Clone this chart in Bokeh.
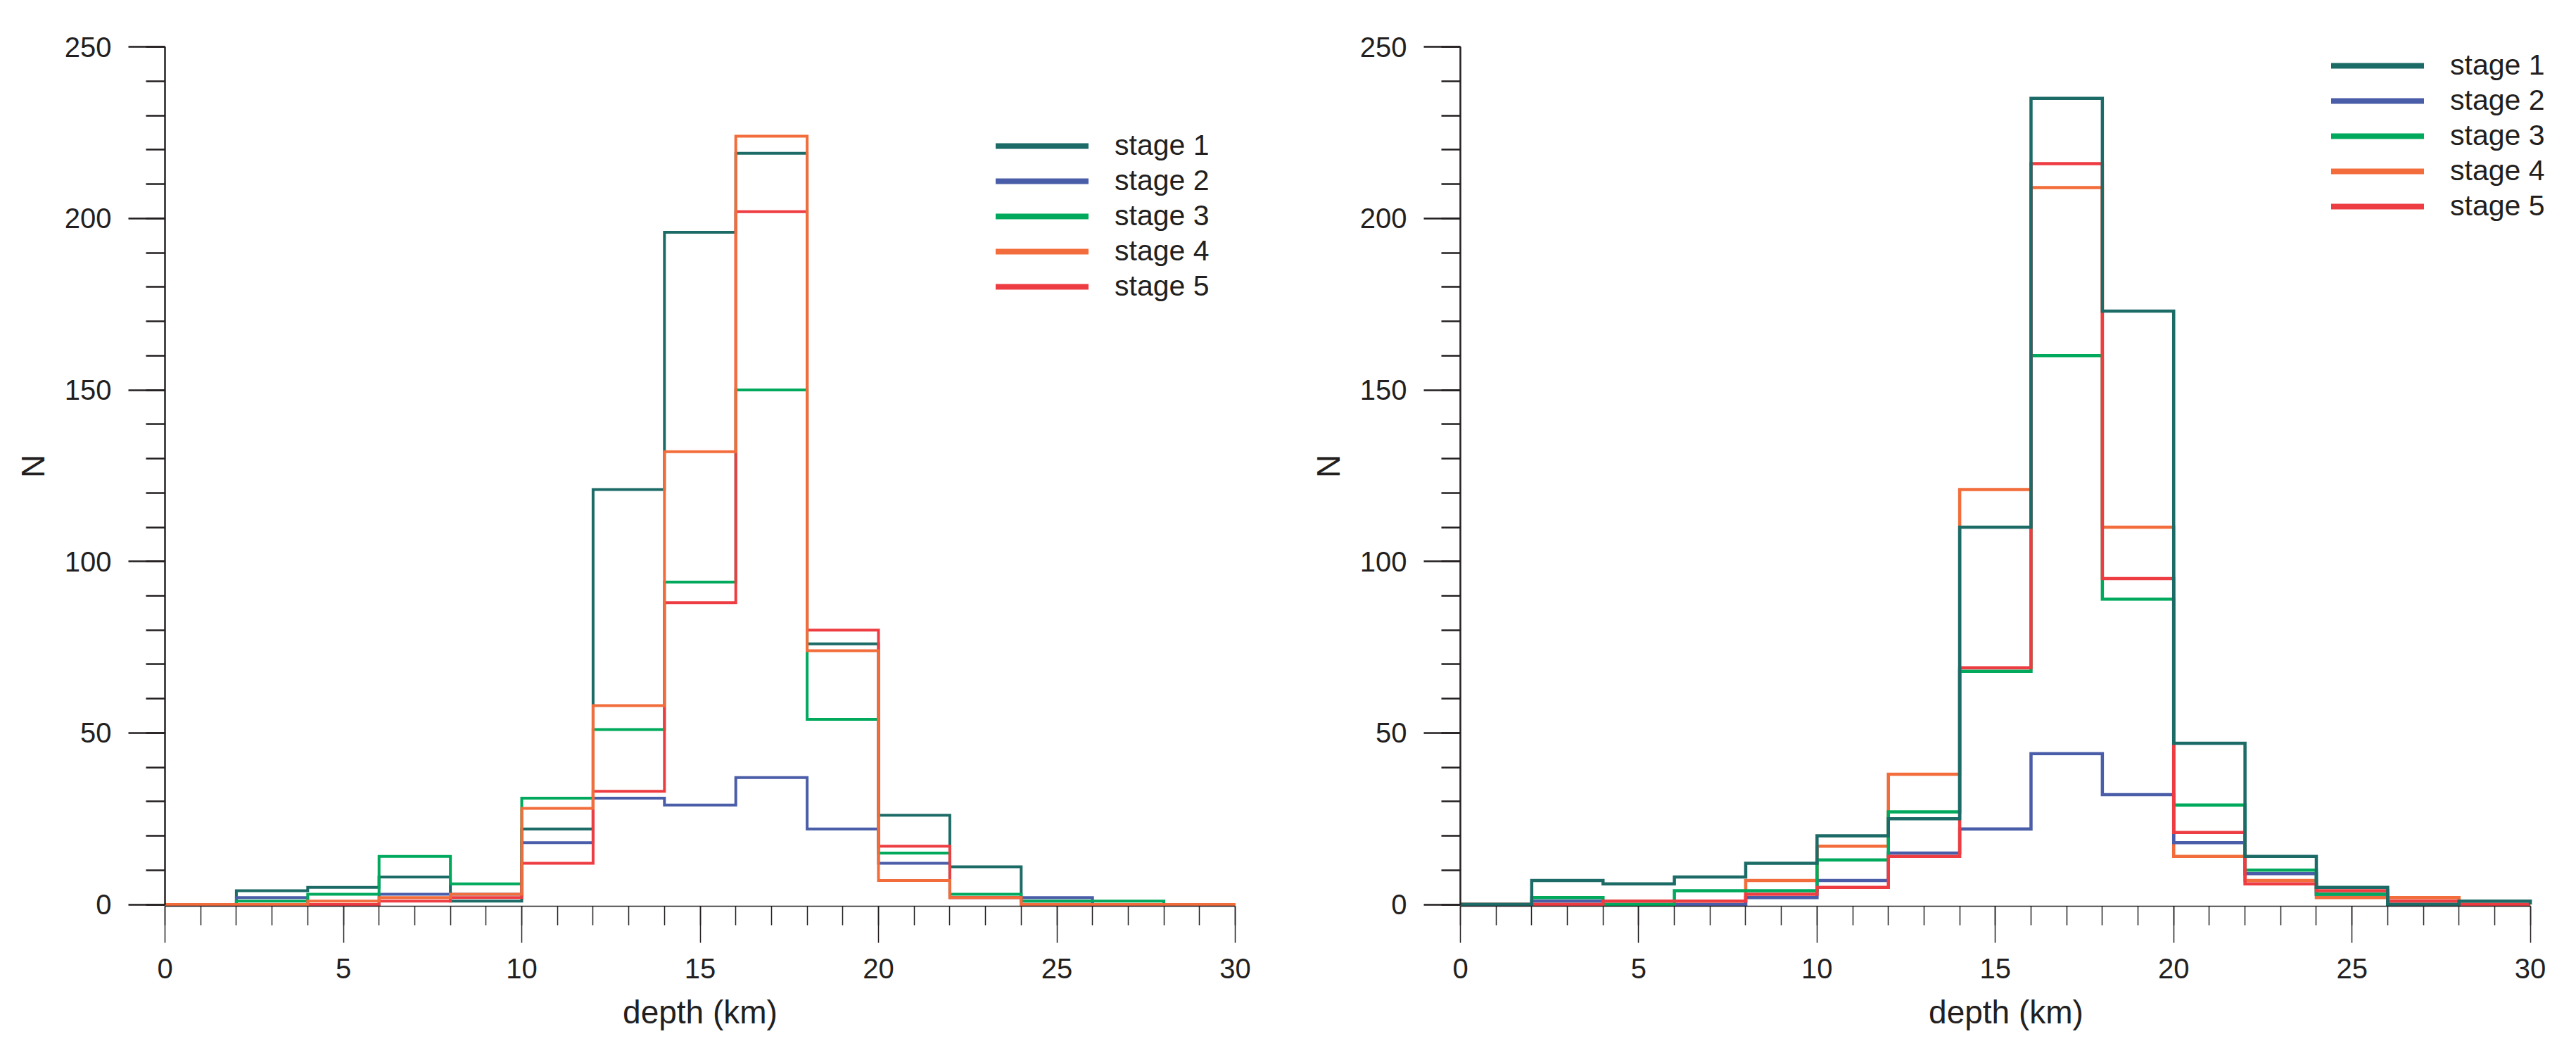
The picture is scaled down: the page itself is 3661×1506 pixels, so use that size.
from bokeh.embed import file_html
from bokeh.resources import INLINE
from bokeh.layouts import row
from bokeh.models import Range1d, SingleIntervalTicker, Legend, LegendItem
from bokeh.plotting import figure

# 2 km depth bins, 0 - 30 km
edges = [0, 2, 4, 6, 8, 10, 12, 14, 16, 18, 20, 22, 24, 26, 28, 30]

stages = ["stage 1", "stage 2", "stage 3", "stage 4", "stage 5"]
colors = ["#1c6b67", "#4a5da8", "#00a95c", "#f26d3b", "#ee3d42"]

# left panel counts per bin
left_s1 = [0, 4, 5, 8, 1, 22, 121, 196, 219, 76, 26, 11, 1, 0, 0]
left_s2 = [0, 2, 0, 3, 3, 18, 31, 29, 37, 22, 12, 2, 2, 0, 0]
left_s3 = [0, 1, 3, 14, 6, 31, 51, 94, 150, 54, 15, 3, 1, 1, 0]
left_s4 = [0, 0, 1, 2, 3, 28, 58, 132, 224, 74, 7, 2, 0, 0, 0]
left_s5 = [0, 0, 0, 1, 2, 12, 33, 88, 202, 80, 17, 2, 0, 0, 0]

# right panel counts per bin
right_s1 = [0, 7, 6, 8, 12, 20, 25, 110, 235, 173, 47, 14, 5, 0, 1]
right_s2 = [0, 1, 0, 0, 2, 7, 15, 22, 44, 32, 18, 9, 3, 0, 0]
right_s3 = [0, 2, 0, 4, 4, 13, 27, 68, 160, 89, 29, 10, 3, 0, 0]
right_s4 = [0, 0, 0, 0, 7, 17, 38, 121, 209, 110, 14, 7, 2, 2, 0]
right_s5 = [0, 0, 1, 1, 3, 5, 14, 69, 216, 95, 21, 6, 4, 1, 0]

FONT = "Liberation Sans"
INK = "#231f20"
NAN = float("nan")
PX_KM = 50.7      # frame pixels per km
PX_N = 4.872      # frame pixels per count
Y0, Y1 = -0.5, 256


def make_panel(series, draw_order, x_end, border_left, border_right, lw, legend_xy):
    p = figure(
        frame_width=int(round(x_end * PX_KM)),
        frame_height=int(round((Y1 - Y0) * PX_N)),
        x_range=Range1d(0, x_end),
        y_range=Range1d(Y0, Y1),
        output_backend="svg",
        toolbar_location=None,
        tools="",
        min_border_left=border_left,
        min_border_right=border_right,
        min_border_top=37,
        min_border_bottom=175,
    )
    p.outline_line_color = None
    p.xgrid.grid_line_color = None
    p.ygrid.grid_line_color = None

    for i in draw_order:
        p.step(x=edges, y=series[i] + [0], mode="after", line_width=lw,
               line_color=colors[i], line_join="miter")

    # legend swatches (round caps, thicker than the histogram lines)
    items = []
    for i, name in enumerate(stages):
        r = p.line(x=[NAN], y=[NAN], line_width=8, line_cap="round", line_color=colors[i])
        items.append(LegendItem(label=name, renderers=[r]))
    legend = Legend(items=items, location=legend_xy)
    legend.label_text_font = FONT
    legend.label_text_font_size = "41px"
    legend.label_text_color = INK
    legend.glyph_width = 132
    legend.glyph_height = 40
    legend.label_height = 40
    legend.label_standoff = 37
    legend.spacing = 3
    legend.padding = 0
    legend.margin = 0
    legend.border_line_color = None
    legend.background_fill_alpha = 0
    p.add_layout(legend, "center")

    p.xaxis.ticker = SingleIntervalTicker(interval=5, num_minor_ticks=5)
    p.yaxis.ticker = SingleIntervalTicker(interval=50, num_minor_ticks=5)
    p.xaxis.bounds = (0, 30)
    p.yaxis.bounds = (0, 250)

    for ax in (p.xaxis[0], p.yaxis[0]):
        ax.major_label_text_font = FONT
        ax.major_label_text_font_size = "40px"
        ax.major_label_text_color = INK
        ax.axis_label_text_font = FONT
        ax.axis_label_text_font_size = "46px"
        ax.axis_label_text_font_style = "normal"
        ax.axis_label_text_color = INK
        ax.axis_line_color = INK
        ax.major_tick_line_color = INK
        ax.minor_tick_line_color = INK
        ax.major_tick_in = 0
        ax.minor_tick_in = 0
        ax.major_tick_out = 52
        ax.minor_tick_out = 27

    p.xaxis.axis_label = "depth (km)"
    p.xaxis.axis_line_width = 1.5
    p.xaxis.major_tick_line_width = 1.5
    p.xaxis.minor_tick_line_width = 1.5
    p.xaxis.major_label_standoff = 22
    p.xaxis.axis_label_standoff = 19

    p.yaxis.axis_label = "N"
    p.yaxis.axis_line_width = 2.5
    p.yaxis.major_tick_line_width = 2.5
    p.yaxis.minor_tick_line_width = 2.5
    p.yaxis.major_label_standoff = 24
    p.yaxis.major_label_orientation = "horizontal"
    p.yaxis.axis_label_standoff = 16
    return p


left = make_panel([left_s1, left_s2, left_s3, left_s4, left_s5],
                  [0, 1, 2, 4, 3], 30, 234, 72, 4, (1181, 857))
right = make_panel([right_s1, right_s2, right_s3, right_s4, right_s5],
                   [3, 1, 2, 4, 0], 30.6, 248, 10, 4.5, (1238, 971))

layout = row(left, right)
open("out.html", "w").write(file_html(layout, INLINE))
